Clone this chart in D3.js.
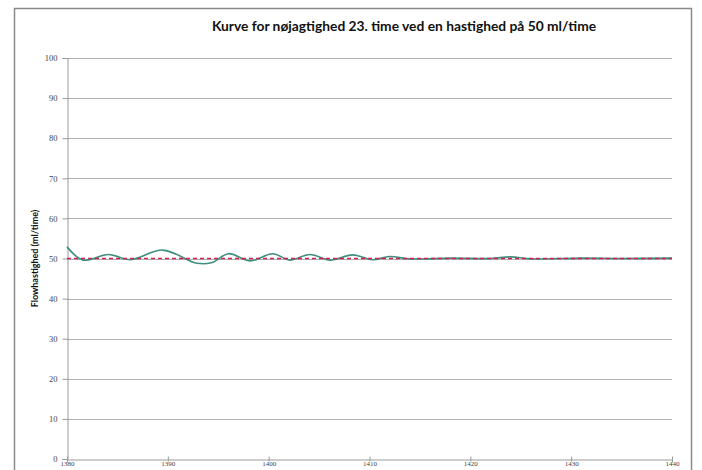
<!DOCTYPE html>
<html><head><meta charset="utf-8">
<script src="https://cdn.jsdelivr.net/npm/d3@7"></script>
<style>html,body{margin:0;padding:0;background:#fff;overflow:hidden}</style>
</head><body>
<svg id="c" width="702" height="470"></svg>
<script>
const title = "Kurve for nøjagtighed 23. time ved en hastighed på 50 ml/time";
const yTitle = "Flowhastighed (ml/time)";
const yTicks = [0,10,20,30,40,50,60,70,80,90,100];
const xTicks = [1380,1390,1400,1410,1420,1430,1440];
const minutes = [1380,1381.6,1384.1,1386.3,1389.5,1392.9,1394.4,1396,1398.2,1400.4,1402.1,1404.1,1406.1,1408.3,1410.3,1412,1414,1418,1422,1424,1426,1431,1435,1440];
const flow    = [52.9,49.6,51.0,49.7,52.1,48.8,49.0,51.2,49.4,51.2,49.6,51.0,49.6,50.9,49.7,50.5,49.9,50.1,50.0,50.4,49.9,50.1,50.0,50.1];
const target = [50,50];
const targetX = [1380,1440];

const svg = d3.select("#c");
const L=67,R=672,T=58,B=459;
const x = d3.scaleLinear().domain([1380,1440]).range([L,R]);
const y = d3.scaleLinear().domain([0,100]).range([B,T]);

svg.append("rect").attr("x",14.5).attr("y",8.5).attr("width",677).attr("height",480)
  .attr("fill","#fff").attr("stroke","#8a8a8a").attr("stroke-width",1.5);

svg.append("g").selectAll("line").data(yTicks.filter(d=>d>0)).join("line")
  .attr("x1",L).attr("x2",R).attr("y1",d=>Math.round(y(d))+0.5).attr("y2",d=>Math.round(y(d))+0.5)
  .attr("stroke","#b0b0b0").attr("stroke-width",1);

const ya = svg.append("g").attr("transform",`translate(${L+0.5},0)`)
  .call(d3.axisLeft(y).tickValues(yTicks).tickSize(5).tickPadding(5));
ya.select(".domain").attr("stroke","#9a9a9a");
ya.selectAll(".tick line").attr("stroke","#9a9a9a");
ya.selectAll("text").attr("fill","#444").style("font-family","Liberation Serif").style("font-size","8.5px");

const xa = svg.append("g").attr("transform",`translate(0,${B+0.5})`)
  .call(d3.axisBottom(x).tickValues(xTicks).tickSize(3).tickFormat(d3.format("d")));
xa.select(".domain").attr("stroke","#9a9a9a");
xa.selectAll(".tick line").attr("stroke","#9a9a9a").attr("y1",-3).attr("y2",2);
xa.selectAll("text").attr("y",2).attr("fill","#444").style("font-family","Liberation Serif").style("font-size","7px");

const pts = minutes.map((m,i)=>[m,flow[i]]);
svg.append("path").datum(pts)
  .attr("d",d3.line().x(d=>x(d[0])).y(d=>y(d[1])).curve(d3.curveCatmullRom))
  .attr("fill","none").attr("stroke","#3f8f80").attr("stroke-width",1.6);

svg.append("path").datum(targetX.map((m,i)=>[m,target[i]]))
  .attr("d",d3.line().x(d=>x(d[0])).y(d=>y(d[1])))
  .attr("fill","none").attr("stroke","#d3204c").attr("stroke-width",1.6).attr("stroke-dasharray","4,3");

svg.append("text").attr("x",404).attr("y",31).attr("text-anchor","middle")
  .style("font-family","Lato").style("font-weight","bold").style("font-size","13.8px").attr("fill","#111").text(title);
svg.append("text").attr("transform",`translate(38,${y(50)}) rotate(-90)`).attr("text-anchor","middle")
  .style("font-family","Lato").style("font-weight","bold").style("font-size","9px").attr("fill","#111").text(yTitle);
</script>
</body></html>
